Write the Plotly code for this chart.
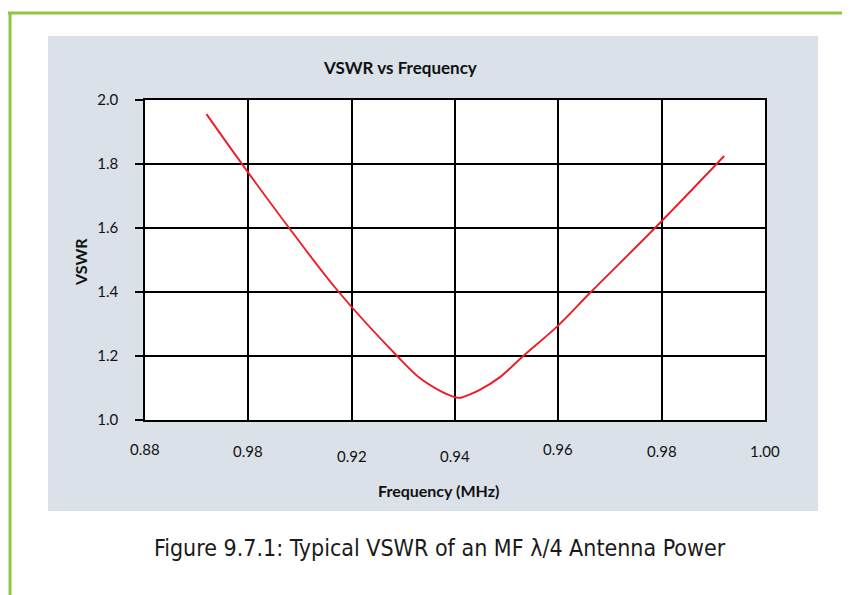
import plotly.graph_objects as go

# curve
freq = [0.8919, 0.8990, 0.9079, 0.9175, 0.9288, 0.9332, 0.9371, 0.9390,
        0.9408, 0.9429, 0.9448, 0.9487, 0.9532, 0.9599, 0.9663, 0.9787, 0.9921]
vswr = [1.956, 1.795, 1.600, 1.400, 1.200, 1.131, 1.091, 1.077,
        1.069, 1.080, 1.094, 1.134, 1.200, 1.294, 1.400, 1.600, 1.825]

x_ticks = [0.88, 0.90, 0.92, 0.94, 0.96, 0.98, 1.00]
x_tick_text = ["0.88", "0.98", "0.92", "0.94", "0.96", "0.98", "1.00"]
y_ticks = [1.0, 1.2, 1.4, 1.6, 1.8, 2.0]

font = "Lato"
green = "#8DC63F"
panel = "#DAE1E8"

fig = go.Figure()
fig.add_trace(go.Scatter(x=freq, y=vswr, mode="lines",
                         line=dict(color="#EE1C24", width=1.9, shape="spline", smoothing=1),
                         showlegend=False, hoverinfo="skip"))

# stagger of the x tick labels in the original
label_dy = [0, 2, 7, 7, 0, 2, 2]
ann = []
for v, t, dy in zip(x_ticks, x_tick_text, label_dy):
    ann.append(dict(x=v, y=0, xref="x", yref="paper", text=t, showarrow=False, xanchor="center",
                    yanchor="middle", yshift=-29 - dy, font=dict(family=font, size=15, color="#111")))

ann += [
    dict(x=0.411, y=1.1, xref="paper", yref="paper", text="<b>VSWR vs Frequency</b>", showarrow=False,
         xanchor="center", yanchor="middle", font=dict(family=font, size=17, color="#111")),
    dict(x=-0.103, y=0.494, xref="paper", yref="paper", text="<b>VSWR</b>", textangle=-90, showarrow=False,
         xanchor="center", yanchor="middle", font=dict(family=font, size=16, color="#111")),
    dict(x=0.474, y=-0.219, xref="paper", yref="paper", text="<b>Frequency (MHz)</b>", showarrow=False,
         xanchor="center", yanchor="middle", font=dict(family=font, size=16, color="#111")),
    dict(x=0.476, y=-0.4, xref="paper", yref="paper",
         text="Figure 9.7.1: Typical VSWR of an MF \u03bb/4 Antenna Power", showarrow=False,
         xanchor="center", yanchor="middle",
         font=dict(family="Liberation Sans Narrow, DejaVu Sans Condensed, Roboto Condensed, Roboto",
                   size=23, color="#1a1a1a")),
]

shapes = [
    dict(type="rect", xref="paper", yref="paper", x0=-0.1565, x1=1.0855, y0=-0.284, y1=1.2,
         fillcolor=panel, line=dict(width=0), layer="below"),
    dict(type="rect", xref="paper", yref="paper", x0=0, x1=1, y0=0, y1=1,
         fillcolor="white", line=dict(width=0), layer="below"),
    dict(type="line", xref="paper", yref="paper", x0=-0.2226, x1=1.2, y0=1.272, y1=1.272,
         line=dict(color=green, width=3)),
    dict(type="line", xref="paper", yref="paper", x0=-0.2177, x1=-0.2177, y0=1.272, y1=-0.6,
         line=dict(color=green, width=3)),
]

# the page body adds 8px, so margins are trimmed to keep the plot box at 145..765 x 100..420
fig.update_layout(
    width=850, height=595,
    margin=dict(l=137, r=93, t=92, b=183),
    paper_bgcolor="white", plot_bgcolor="white",
    annotations=ann, shapes=shapes,
    xaxis=dict(range=[0.88, 1.00], tickvals=x_ticks, showticklabels=False, showgrid=True,
               gridcolor="black", gridwidth=1.5, showline=True, linecolor="black", linewidth=1.5,
               mirror=True, zeroline=False, fixedrange=True),
    yaxis=dict(range=[1.0, 2.0], tickvals=y_ticks, tickformat=".1f", ticks="outside", ticklen=8,
               tickcolor="black", tickwidth=1.5, ticklabelstandoff=14,
               tickfont=dict(family=font, size=15, color="#111"), showgrid=True,
               gridcolor="black", gridwidth=1.5, showline=True, linecolor="black", linewidth=1.5,
               mirror=True, zeroline=False, fixedrange=True),
)

fig.write_html("out.html")
